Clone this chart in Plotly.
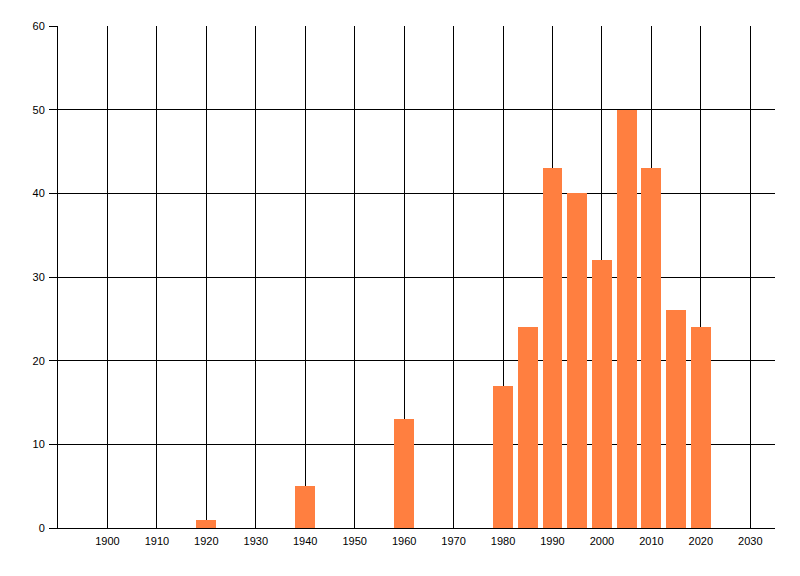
import plotly.graph_objects as go

years = [1920, 1940, 1960, 1980, 1985, 1990, 1995, 2000, 2005, 2010, 2015, 2020]
counts = [1, 5, 13, 17, 24, 43, 40, 32, 50, 43, 26, 24]
x_ticks = list(range(1900, 2031, 10))
y_ticks = list(range(0, 61, 10))

fig = go.Figure()
fig.add_trace(go.Bar(x=years, y=counts, width=4, marker_color="#FF7F40",
                     marker_line_width=0, showlegend=False))

# page body has an 8px margin, so offsets are shifted accordingly
fig.update_layout(
    width=800, height=576,
    margin=dict(l=50, r=33, t=18, b=56),
    paper_bgcolor="white", plot_bgcolor="white",
    font=dict(family="Liberation Sans, Arial, sans-serif", size=11, color="black"),
    bargap=0,
)
fig.update_xaxes(range=[1890, 2035], tickvals=x_ticks, ticktext=[str(t) for t in x_ticks],
                 showgrid=True, gridcolor="black", gridwidth=1,
                 showline=True, linecolor="black", linewidth=1,
                 ticks="", zeroline=False, ticklabelstandoff=3)
fig.update_yaxes(range=[0, 60], tickvals=y_ticks,
                 showgrid=True, gridcolor="black", gridwidth=1,
                 showline=True, linecolor="black", linewidth=1,
                 ticks="outside", ticklen=8, tickcolor="black",
                 zeroline=False, ticklabelstandoff=2)

fig.write_html("out.html")
